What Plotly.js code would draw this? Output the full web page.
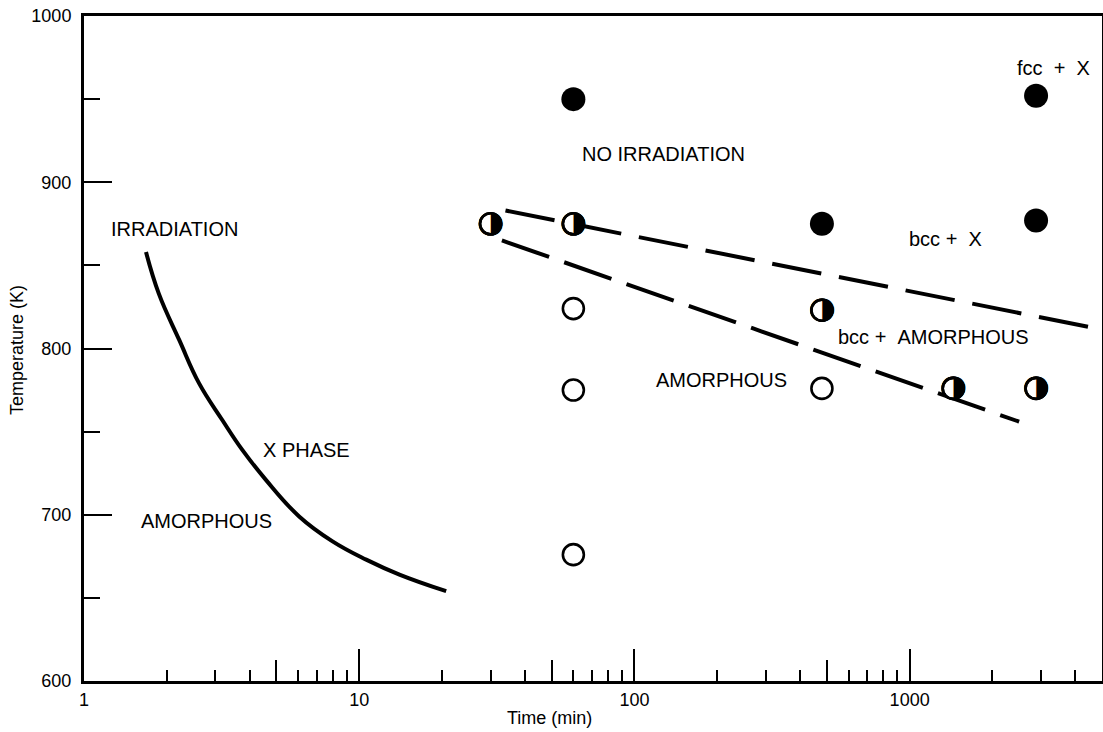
<!DOCTYPE html>
<html>
<head>
<meta charset="utf-8">
<script src="https://cdn.plot.ly/plotly-3.0.1.min.js"></script>
<style>html,body{margin:0;padding:0;background:#fff;}#chart{width:1103px;height:732px;}</style>
</head>
<body>
<div id="chart"></div>
<script>
// ---- Data ----
// Irradiation boundary curve (time in min, temperature in K)
const curveTime = [1.68, 1.87, 2.22, 2.62, 3.18, 3.76, 4.58, 6.05, 8.0, 10.6, 14.0, 20.7];
const curveTemp = [858, 833, 805, 779, 757, 739, 721, 699, 684, 673, 664, 654];

// Dashed phase boundaries (no irradiation)
const upperTime = [34, 4800];
const upperTemp = [883, 812];
const lowerTime = [33, 2500];
const lowerTemp = [865, 756];

// Filled circles (crystalline + chi)
const filledTime = [60, 480, 2880, 2880];
const filledTemp = [950, 875, 952, 877];
// Half-filled circles (bcc + amorphous)
const halfTime = [30, 60, 480, 1440, 2880];
const halfTemp = [875, 875, 823, 776, 776];
// Open circles (amorphous)
const openTime = [60, 60, 60, 480];
const openTemp = [824, 775, 676, 776];

// Region labels
const NB = '\u00A0';
const labelText = ['IRRADIATION', 'Χ PHASE', 'AMORPHOUS', 'NO IRRADIATION',
  'fcc' + NB + NB + '+' + NB + NB + 'Χ', 'bcc' + NB + '+' + NB + NB + 'Χ', 'bcc' + NB + '+' + NB + NB + 'AMORPHOUS', 'AMORPHOUS'];
const labelTime = [2.14, 6.42, 2.78, 128, 3340, 1352, 1223, 207];
const labelTemp = [872, 739, 696, 917, 969, 866, 807, 781];

// Tick values
const xMajorTicks = [1, 10, 100, 1000];
const xMidTicks = [5, 50, 500];
const xMinorTicks = [2, 3, 4, 6, 7, 8, 9, 20, 30, 40, 60, 70, 80, 90, 200, 300, 400, 600, 700, 800, 900, 2000, 3000, 4000];
const yMajorTicks = [600, 700, 800, 900, 1000];
const yMinorTicks = [650, 750, 850, 950];

const FONT = 'Liberation Sans, Arial, Helvetica, sans-serif';
const xRange = [0, Math.log10(5000)];

const traces = [
  {x: curveTime, y: curveTemp, mode: 'lines', line: {color: '#000', width: 4, shape: 'spline', smoothing: 1.2}, hoverinfo: 'skip'},
  {x: upperTime, y: upperTemp, mode: 'lines', line: {color: '#000', width: 4, dash: '50px,18px'}, hoverinfo: 'skip'},
  {x: lowerTime, y: lowerTemp, mode: 'lines', line: {color: '#000', width: 4, dash: '50px,16px'}, hoverinfo: 'skip'},
  {x: filledTime, y: filledTemp, mode: 'markers', marker: {symbol: 'circle', size: 24, color: '#000'}},
  {x: openTime, y: openTemp, mode: 'markers', marker: {symbol: 'circle', size: 21, color: '#fff', line: {color: '#000', width: 2.6}}},
  {x: halfTime, y: halfTemp, mode: 'markers', marker: {symbol: 'circle', size: 21, color: '#fff', line: {color: '#000', width: 2.6}}},
  {x: halfTime, y: halfTemp, mode: 'text', text: halfTime.map(() => '◑'), textposition: 'middle center',
   textfont: {family: 'DejaVu Sans', size: 31, color: '#000'}},
  {x: halfTime, y: halfTemp, mode: 'markers', marker: {symbol: 'circle-open', size: 21, color: '#000', line: {color: '#000', width: 2.6}}},
  {x: [10], y: [800], xaxis: 'x2', mode: 'markers', marker: {opacity: 0}, hoverinfo: 'skip'}
];

const annotations = labelText.map((t, i) => ({
  x: Math.log10(labelTime[i]), y: labelTemp[i], xref: 'x', yref: 'y', text: t, showarrow: false,
  font: {family: FONT, size: 20, color: '#000'}, xanchor: 'center', yanchor: 'middle'
}));
annotations.push({
  xref: 'paper', yref: 'paper', x: 0.4568, y: 0, yshift: -37, text: 'Time (min)', showarrow: false,
  font: {family: FONT, size: 18, color: '#000'}, xanchor: 'center', yanchor: 'middle'
});
annotations.push({
  xref: 'paper', yref: 'paper', x: 0, xshift: -67, y: 0.4977, text: 'Temperature (K)', showarrow: false,
  textangle: -90, font: {family: FONT, size: 18, color: '#000'}, xanchor: 'center', yanchor: 'middle'
});

const layout = {
  width: 1103, height: 732,
  margin: {l: 84, r: 1, t: 16, b: 51},
  paper_bgcolor: '#fff', plot_bgcolor: '#fff',
  showlegend: false,
  font: {family: FONT, size: 18, color: '#000'},
  xaxis: {
    type: 'log', range: xRange, showgrid: false, zeroline: false,
    showline: true, linewidth: 3, linecolor: '#000', mirror: true,
    tickmode: 'array', tickvals: xMajorTicks, ticktext: xMajorTicks.map(String),
    ticks: 'inside', ticklen: 32, tickwidth: 2, tickcolor: '#000', ticklabelstandoff: 0,
    tickfont: {family: FONT, size: 18, color: '#000'},
    minor: {tickmode: 'array', tickvals: xMinorTicks, ticks: 'inside', ticklen: 11, tickwidth: 2, tickcolor: '#000', showgrid: false}
  },
  xaxis2: {
    type: 'log', range: xRange, overlaying: 'x', anchor: 'y', side: 'bottom',
    showgrid: false, zeroline: false, showline: false, showticklabels: false,
    tickmode: 'array', tickvals: xMidTicks, ticks: 'inside', ticklen: 21, tickwidth: 2, tickcolor: '#000'
  },
  yaxis: {
    range: [600, 1000], showgrid: false, zeroline: false,
    showline: true, linewidth: 3, linecolor: '#000', mirror: true,
    tickmode: 'array', tickvals: yMajorTicks, ticktext: yMajorTicks.map(String),
    ticks: 'inside', ticklen: 28, tickwidth: 2, tickcolor: '#000', ticklabelstandoff: 6,
    tickfont: {family: FONT, size: 18, color: '#000'},
    minor: {tickmode: 'array', tickvals: yMinorTicks, ticks: 'inside', ticklen: 16, tickwidth: 2, tickcolor: '#000', showgrid: false}
  },
  annotations: annotations
};

Plotly.newPlot('chart', traces, layout, {staticPlot: true, displayModeBar: false});
</script>
</body>
</html>
